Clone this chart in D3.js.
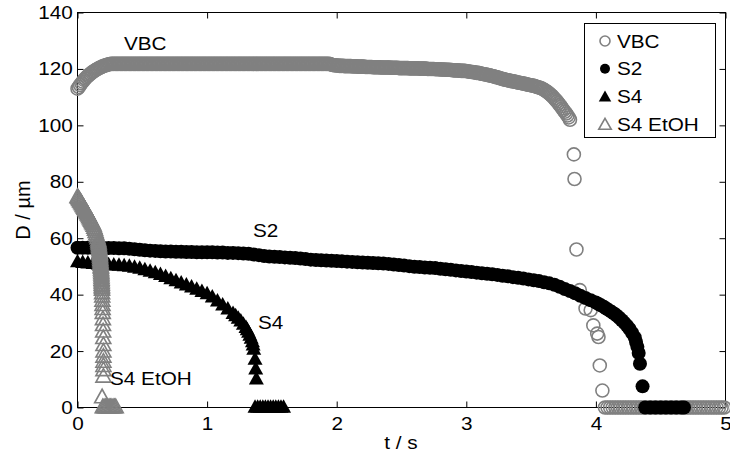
<!DOCTYPE html>
<html><head><meta charset="utf-8">
<script src="https://cdn.jsdelivr.net/npm/d3@7"></script>
<style>body{margin:0;background:#fff}svg{display:block}</style>
</head><body><svg id="c" width="730" height="457"></svg>
<script>
const xTicks=[0,1,2,3,4,5];
const yTicks=[0,20,40,60,80,100,120,140];
const seriesNames=["VBC","S2","S4","S4 EtOH"];
const xLabel="t / s", yLabel="D / µm";

// [t (s), D (µm)]
const vbc=[
[0,113],[0.01,113.6],[0.02,114.3],[0.03,114.9],[0.04,115.5],[0.05,116.1],[0.06,116.6],[0.07,117.1],[0.08,117.5],[0.09,117.9],
[0.1,118.3],[0.11,118.7],[0.12,119],[0.13,119.3],[0.14,119.6],[0.15,119.9],[0.16,120.1],[0.17,120.4],[0.18,120.6],[0.19,120.8],
[0.2,121],[0.21,121.2],[0.22,121.3],[0.23,121.5],[0.24,121.6],[0.25,121.7],[0.26,121.8],[0.27,121.8],[0.28,121.8],[0.29,121.8],
[0.3,121.8],[0.31,121.8],[0.32,121.8],[0.33,121.8],[0.34,121.8],[0.35,121.8],[0.36,121.8],[0.37,121.8],[0.38,121.8],[0.39,121.8],
[0.4,121.8],[0.41,121.8],[0.42,121.8],[0.43,121.8],[0.44,121.8],[0.45,121.8],[0.46,121.8],[0.47,121.8],[0.48,121.8],[0.49,121.8],
[0.5,121.8],[0.51,121.8],[0.52,121.8],[0.53,121.8],[0.54,121.8],[0.55,121.8],[0.56,121.8],[0.57,121.8],[0.58,121.8],[0.59,121.8],
[0.6,121.8],[0.61,121.8],[0.62,121.8],[0.63,121.8],[0.64,121.8],[0.65,121.8],[0.66,121.8],[0.67,121.8],[0.68,121.8],[0.69,121.8],
[0.7,121.8],[0.71,121.8],[0.72,121.8],[0.73,121.8],[0.74,121.8],[0.75,121.8],[0.76,121.8],[0.77,121.8],[0.78,121.8],[0.79,121.8],
[0.8,121.8],[0.81,121.8],[0.82,121.8],[0.83,121.8],[0.84,121.8],[0.85,121.8],[0.86,121.8],[0.87,121.8],[0.88,121.8],[0.89,121.8],
[0.9,121.8],[0.91,121.8],[0.92,121.8],[0.93,121.8],[0.94,121.8],[0.95,121.8],[0.96,121.8],[0.97,121.8],[0.98,121.8],[0.99,121.8],
[1,121.8],[1.01,121.8],[1.02,121.8],[1.03,121.8],[1.04,121.8],[1.05,121.8],[1.06,121.8],[1.07,121.8],[1.08,121.8],[1.09,121.8],
[1.1,121.8],[1.11,121.8],[1.12,121.8],[1.13,121.8],[1.14,121.8],[1.15,121.8],[1.16,121.8],[1.17,121.8],[1.18,121.8],[1.19,121.8],
[1.2,121.8],[1.21,121.8],[1.22,121.8],[1.23,121.8],[1.24,121.8],[1.25,121.8],[1.26,121.8],[1.27,121.8],[1.28,121.8],[1.29,121.8],
[1.3,121.8],[1.31,121.8],[1.32,121.8],[1.33,121.8],[1.34,121.8],[1.35,121.8],[1.36,121.8],[1.37,121.8],[1.38,121.8],[1.39,121.8],
[1.4,121.8],[1.41,121.8],[1.42,121.8],[1.43,121.8],[1.44,121.8],[1.45,121.8],[1.46,121.8],[1.47,121.8],[1.48,121.8],[1.49,121.8],
[1.5,121.8],[1.51,121.8],[1.52,121.8],[1.53,121.8],[1.54,121.8],[1.55,121.8],[1.56,121.8],[1.57,121.8],[1.58,121.8],[1.59,121.8],
[1.6,121.8],[1.61,121.8],[1.62,121.8],[1.63,121.8],[1.64,121.8],[1.65,121.8],[1.66,121.8],[1.67,121.8],[1.68,121.8],[1.69,121.8],
[1.7,121.8],[1.71,121.8],[1.72,121.8],[1.73,121.8],[1.74,121.8],[1.75,121.8],[1.76,121.8],[1.77,121.8],[1.78,121.8],[1.79,121.8],
[1.8,121.8],[1.81,121.8],[1.82,121.8],[1.83,121.8],[1.84,121.8],[1.85,121.8],[1.86,121.8],[1.87,121.8],[1.88,121.8],[1.89,121.8],
[1.9,121.8],[1.91,121.8],[1.92,121.8],[1.93,121.8],[1.94,121.8],[1.95,121.7],[1.96,121.5],[1.97,121.4],[1.98,121.3],[1.99,121.3],
[2,121.2],[2.01,121.2],[2.02,121.1],[2.03,121.1],[2.04,121.1],[2.05,121.1],[2.06,121],[2.07,121],[2.08,121],[2.09,121],
[2.1,121],[2.11,121],[2.12,120.9],[2.13,120.9],[2.14,120.9],[2.15,120.9],[2.16,120.8],[2.17,120.8],[2.18,120.8],[2.19,120.8],
[2.2,120.8],[2.21,120.8],[2.22,120.7],[2.23,120.7],[2.24,120.7],[2.25,120.7],[2.26,120.7],[2.27,120.7],[2.28,120.6],[2.29,120.6],
[2.3,120.6],[2.31,120.6],[2.32,120.6],[2.33,120.6],[2.34,120.5],[2.35,120.5],[2.36,120.5],[2.37,120.5],[2.38,120.5],[2.39,120.5],
[2.4,120.5],[2.41,120.5],[2.42,120.4],[2.43,120.4],[2.44,120.4],[2.45,120.4],[2.46,120.4],[2.47,120.4],[2.48,120.3],[2.49,120.3],
[2.5,120.3],[2.51,120.3],[2.52,120.3],[2.53,120.3],[2.54,120.3],[2.55,120.3],[2.56,120.2],[2.57,120.2],[2.58,120.2],[2.59,120.2],
[2.6,120.2],[2.61,120.2],[2.62,120.2],[2.63,120.2],[2.64,120.1],[2.65,120.1],[2.66,120.1],[2.67,120.1],[2.68,120.1],[2.69,120.1],
[2.7,120],[2.71,120],[2.72,120],[2.73,120],[2.74,120],[2.75,120],[2.76,119.9],[2.77,119.9],[2.78,119.9],[2.79,119.9],
[2.8,119.8],[2.81,119.8],[2.82,119.8],[2.83,119.8],[2.84,119.7],[2.85,119.7],[2.86,119.7],[2.87,119.7],[2.88,119.6],[2.89,119.6],
[2.9,119.5],[2.91,119.5],[2.92,119.5],[2.93,119.5],[2.94,119.4],[2.95,119.4],[2.96,119.3],[2.97,119.3],[2.98,119.3],[2.99,119.3],
[3,119.2],[3.01,119.2],[3.02,119.1],[3.03,119],[3.04,118.9],[3.05,118.9],[3.06,118.8],[3.07,118.7],[3.08,118.6],[3.09,118.6],
[3.1,118.5],[3.11,118.4],[3.12,118.3],[3.13,118.2],[3.14,118.1],[3.15,118],[3.16,117.9],[3.17,117.8],[3.18,117.7],[3.19,117.6],
[3.2,117.5],[3.21,117.4],[3.22,117.2],[3.23,117.1],[3.24,117],[3.25,116.9],[3.26,116.7],[3.27,116.6],[3.28,116.4],[3.29,116.3],
[3.3,116.2],[3.31,116.1],[3.32,116],[3.33,115.9],[3.34,115.8],[3.35,115.7],[3.36,115.6],[3.37,115.5],[3.38,115.4],[3.39,115.3],
[3.4,115.2],[3.41,115.1],[3.42,115],[3.43,114.9],[3.44,114.8],[3.45,114.7],[3.46,114.6],[3.47,114.5],[3.48,114.4],[3.49,114.3],
[3.5,114.2],[3.51,114.1],[3.52,114],[3.53,113.9],[3.54,113.7],[3.55,113.6],[3.56,113.4],[3.57,113.3],[3.58,113.1],[3.59,112.9],
[3.6,112.6],[3.61,112.3],[3.62,112],[3.63,111.7],[3.64,111.3],[3.65,110.9],[3.66,110.5],[3.67,110],[3.68,109.5],[3.69,109],
[3.7,108.5],[3.71,107.9],[3.72,107.3],[3.73,106.7],[3.74,106],[3.75,105.4],[3.76,104.8],[3.77,104.2],[3.78,103.5],[3.79,102.8],
[3.8,102],[3.83,89.7],[3.835,81],[3.85,56],[3.876,41.6],[3.92,35.1],[3.96,34.5],[3.98,29.1],[4.01,26.2],[4.02,25],[4.03,14.9],[4.05,6],
[4.07,0],[4.09,0],[4.11,0],[4.13,0],[4.15,0],[4.17,0],[4.19,0],[4.21,0],[4.23,0],[4.25,0],[4.27,0],[4.29,0],[4.31,0],[4.33,0],
[4.35,0],[4.37,0],[4.39,0],[4.41,0],[4.43,0],[4.45,0],[4.47,0],[4.49,0],[4.51,0],[4.53,0],[4.55,0],[4.57,0],[4.59,0],[4.61,0],
[4.63,0],[4.65,0],[4.67,0],[4.69,0],[4.71,0],[4.73,0],[4.75,0],[4.77,0],[4.79,0],[4.81,0],[4.83,0],[4.85,0],[4.87,0],[4.89,0],
[4.91,0],[4.93,0],[4.95,0],[4.97,0],[4.99,0]
];

const s2=[
[0,56.6],[0.04,56.6],[0.08,56.6],[0.12,56.6],[0.16,56.6],[0.2,56.5],[0.24,56.5],[0.28,56.5],[0.32,56.4],[0.36,56.4],
[0.4,56.3],[0.44,56.1],[0.48,55.9],[0.52,55.7],[0.56,55.6],[0.6,55.5],[0.64,55.4],[0.68,55.3],[0.72,55.3],[0.76,55.2],
[0.8,55.2],[0.84,55.1],[0.88,55.1],[0.92,55],[0.96,55],[1,55],[1.04,55],[1.08,54.9],[1.12,54.9],[1.16,54.8],
[1.2,54.8],[1.24,54.7],[1.28,54.6],[1.32,54.5],[1.36,54.2],[1.4,54],[1.44,53.7],[1.48,53.5],[1.52,53.4],[1.56,53.3],
[1.6,53.2],[1.64,53.1],[1.68,53],[1.72,52.8],[1.76,52.6],[1.8,52.4],[1.84,52.3],[1.88,52.2],[1.92,52.1],[1.96,52],
[2,51.9],[2.04,51.8],[2.08,51.7],[2.12,51.6],[2.16,51.5],[2.2,51.4],[2.24,51.3],[2.28,51.2],[2.32,51.1],[2.36,51],
[2.4,50.9],[2.44,50.7],[2.48,50.5],[2.52,50.3],[2.56,50.1],[2.6,49.9],[2.64,49.8],[2.68,49.6],[2.72,49.5],[2.76,49.4],
[2.8,49.2],[2.84,49],[2.88,48.8],[2.92,48.6],[2.96,48.4],[3,48.2],[3.04,48],[3.08,47.8],[3.12,47.6],[3.16,47.4],
[3.2,47.2],[3.24,47],[3.28,46.7],[3.32,46.5],[3.36,46.2],[3.4,46],[3.44,45.7],[3.48,45.4],[3.52,45.1],[3.56,44.8],
[3.6,44.4],[3.64,44],[3.68,43.5],[3.72,42.8],[3.76,42],[3.8,41.3],[3.84,40.5],[3.88,39.6],[3.92,38.8],[3.96,38],
[4,37.2],[4.02,36.7],[4.04,36.2],[4.06,35.7],[4.08,35.1],[4.1,34.5],[4.12,33.9],[4.14,33.3],[4.16,32.6],[4.18,31.8],
[4.2,30.9],[4.22,30],[4.24,29],[4.26,27.8],[4.28,26.4],[4.3,24.8],[4.31,23.2],[4.32,21.5],[4.33,19.3],[4.34,15.5],[4.36,7.5],
[4.38,0],[4.42,0],[4.46,0],[4.5,0],[4.54,0],[4.58,0],[4.62,0],[4.66,0],[4.68,0]
];

const s4=[
[0,51.5],[0.04,51.3],[0.08,51.1],[0.12,50.9],[0.16,50.7],[0.2,50.6],[0.24,50.5],[0.28,50.4],[0.32,50.3],[0.36,50.1],
[0.4,49.9],[0.44,49.6],[0.48,49.2],[0.52,48.7],[0.56,48.2],[0.6,47.6],[0.64,47],[0.68,46.3],[0.72,45.5],[0.76,44.8],
[0.8,44],[0.84,43.3],[0.88,42.6],[0.92,41.8],[0.96,41],[1,40.2],[1.04,39],[1.08,37.6],[1.12,36.2],[1.16,34.8],
[1.2,33.2],[1.22,32.4],[1.24,31.5],[1.26,30.5],[1.28,29.4],[1.3,28.2],[1.31,27.4],[1.32,26.5],[1.33,25.5],[1.34,24.4],
[1.35,23.2],[1.355,22],[1.36,20.5],[1.37,17],[1.375,13.5],[1.38,10],
[1.37,0],[1.39,0],[1.41,0],[1.43,0],[1.45,0],[1.47,0],[1.49,0],[1.51,0],[1.53,0],[1.55,0],[1.57,0],[1.59,0]
];

const s4EtOH=[
[0,74.5],[0.005,74.2],[0.01,73.8],[0.015,73.4],[0.02,73],[0.025,72.7],[0.03,72.3],[0.035,71.9],[0.04,71.5],[0.045,71.1],
[0.05,70.7],[0.055,70.3],[0.06,69.9],[0.065,69.5],[0.07,69.1],[0.075,68.7],[0.08,68.3],[0.085,67.9],[0.09,67.4],[0.095,67],
[0.1,66.5],[0.105,66.1],[0.11,65.6],[0.115,65.2],[0.12,64.8],[0.125,64.3],[0.13,63.6],[0.135,62.9],[0.14,62.1],[0.145,61.3],
[0.15,60.6],[0.155,59.9],[0.16,59.1],[0.1615,58.5],[0.163,58],[0.1645,57.4],[0.166,56.8],[0.1675,56.2],[0.169,55.6],[0.1705,55],
[0.172,54.4],[0.173,53.9],[0.174,53.4],[0.175,52.8],[0.176,52.2],[0.177,51.6],[0.178,51],[0.179,50.5],[0.18,49.9],[0.181,49.4],
[0.182,48.8],[0.183,48.2],[0.184,47.6],[0.1845,47],[0.185,46.4],[0.1855,45.8],[0.186,45.2],[0.1865,44.6],[0.187,44],[0.1875,43.4],
[0.188,42.8],[0.1885,42.2],[0.189,41.6],[0.19,40.4],[0.191,39.2],[0.192,37.7],[0.193,36.2],[0.194,34.8],[0.195,33.4],[0.196,31.2],
[0.197,29.1],[0.198,26.8],[0.199,24.5],[0.2,22],[0.2,19.7],[0.2,17.9],[0.2,16.1],[0.2,14.6],[0.2,13.1],[0.2,10.8],[0.19,3.5],
[0.195,0],[0.205,0],[0.215,0],[0.225,0],[0.235,0],[0.245,0],[0.255,0],[0.265,0],[0.275,0],[0.285,0],[0.295,0]
];

const annotations=[["VBC",124,50],["S2",253,237],["S4",258,329],["S4 EtOH",110,385]];

const FONT="'Liberation Sans', Arial, Helvetica, sans-serif";
const FS=18.5, SX=1.12, GRAY="#808080";
const svg=d3.select("#c");
const x=d3.scaleLinear().domain([0,5]).range([77.5,725.5]);
const y=d3.scaleLinear().domain([0,140]).range([407.5,12.5]);

const triPath=(w,h)=>`M0,${-h*0.62}L${w/2},${h*0.38}L${-w/2},${h*0.38}Z`;
const styles={
 "VBC":{type:"circle",r:6.5,fill:"none",stroke:GRAY,sw:1.6},
 "S2":{type:"circle",r:7,fill:"#000",stroke:"none",sw:0},
 "S4":{type:"tri",w:15,h:13.5,fill:"#000",stroke:"none",sw:0},
 "S4 EtOH":{type:"tri",w:15,h:13.5,fill:"none",stroke:GRAY,sw:1.6}
};
const dataMap={"VBC":vbc,"S2":s2,"S4":s4,"S4 EtOH":s4EtOH};

// axes (ticks inward on all sides)
const gB=svg.append("g").attr("transform","translate(0,407.5)")
 .call(d3.axisBottom(x).tickValues(xTicks).tickSizeInner(-6).tickSizeOuter(0).tickPadding(9).tickFormat(d3.format("d")));
const gT=svg.append("g").attr("transform","translate(0,12.5)")
 .call(d3.axisTop(x).tickValues(xTicks).tickSizeInner(-6).tickSizeOuter(0).tickFormat(""));
const gL=svg.append("g").attr("transform","translate(77.5,0)")
 .call(d3.axisLeft(y).tickValues(yTicks).tickSizeInner(-6).tickSizeOuter(0).tickPadding(4.3).tickFormat(d3.format("d")));
const gR=svg.append("g").attr("transform","translate(725.5,0)")
 .call(d3.axisRight(y).tickValues(yTicks).tickSizeInner(-6).tickSizeOuter(0).tickFormat(""));
[gB,gT,gL,gR].forEach(g=>{
 g.select(".domain").remove();
 g.selectAll("line").attr("stroke","#000").attr("stroke-width",1);
 g.selectAll("text").attr("font-family",FONT).attr("font-size",FS).attr("fill","#000").attr("transform",`scale(${SX},1)`);
});
svg.append("rect").attr("x",77.5).attr("y",12.5).attr("width",648).attr("height",395)
 .attr("fill","none").attr("stroke","#000").attr("stroke-width",1);

// series
seriesNames.forEach(name=>{
 const st=styles[name];
 const g=svg.append("g");
 const sel=g.selectAll("x").data(dataMap[name]).enter();
 if(st.type==="circle"){
  sel.append("circle").attr("cx",d=>x(d[0])).attr("cy",d=>y(d[1])).attr("r",st.r)
   .attr("fill",st.fill).attr("stroke",st.stroke).attr("stroke-width",st.sw);
 } else {
  sel.append("path").attr("d",triPath(st.w,st.h)).attr("transform",d=>`translate(${x(d[0])},${y(d[1])})`)
   .attr("fill",st.fill).attr("stroke",st.stroke).attr("stroke-width",st.sw).attr("stroke-linejoin","miter");
 }
});

function txt(str,tx,ty,anchor,size){
 svg.append("g").attr("transform",`translate(${tx},${ty}) scale(${SX},1)`)
  .append("text").attr("text-anchor",anchor||"start").attr("font-family",FONT).attr("font-size",size||FS).attr("fill","#000").text(str);
}
annotations.forEach(a=>txt(a[0],a[1],a[2],"start"));
txt(xLabel,401,449,"middle");
svg.append("text").attr("transform","translate(30,210) rotate(-90)").attr("text-anchor","middle")
 .attr("font-family",FONT).attr("font-size",20).attr("fill","#000").text(yLabel);

// legend
svg.append("rect").attr("x",584.5).attr("y",23.5).attr("width",131).attr("height",114)
 .attr("fill","#fff").attr("stroke","#000").attr("stroke-width",1);
seriesNames.forEach((name,i)=>{
 const st=styles[name];
 const cy=41+i*27.7;
 if(st.type==="circle"){
  svg.append("circle").attr("cx",605).attr("cy",cy).attr("r",5).attr("fill",st.fill).attr("stroke",st.stroke).attr("stroke-width",st.sw);
 } else {
  svg.append("path").attr("d",triPath(12.5,11)).attr("transform",`translate(605,${cy+1})`)
   .attr("fill",st.fill).attr("stroke",st.stroke).attr("stroke-width",st.sw);
 }
 txt(name,617,cy+6.5,"start");
});
</script></body></html>
